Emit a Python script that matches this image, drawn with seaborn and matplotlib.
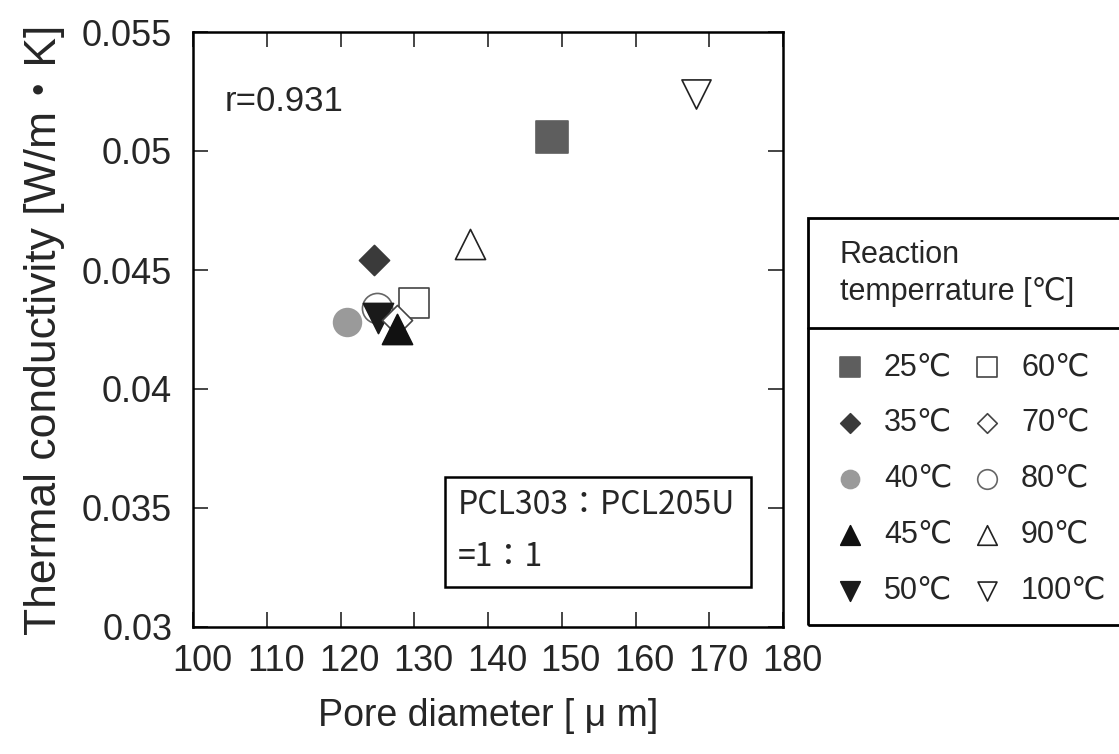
import numpy as np
import pandas as pd
import seaborn as sns
import matplotlib.pyplot as plt
from matplotlib.patches import Rectangle
from matplotlib.lines import Line2D
from matplotlib.transforms import ScaledTranslation

# values
temps = ['25℃', '35℃', '40℃', '45℃', '50℃', '60℃', '70℃', '80℃', '90℃', '100℃']
pore = [148.7, 124.5, 120.9, 127.6, 125.1, 129.9, 127.7, 124.9, 137.6, 168.2]
cond = [0.0506, 0.0454, 0.0428, 0.0425, 0.0430, 0.0436, 0.0429, 0.0434, 0.0461, 0.0524]

xticks = [100, 110, 120, 130, 140, 150, 160, 170, 180]
yticks = [0.03, 0.035, 0.04, 0.045, 0.05, 0.055]
ytick_labels = ['0.03', '0.035', '0.04', '0.045', '0.05', '0.055']

# marker styles per temperature
markers = ['s', 'D', 'o', '^', 'v', 's', 'D', 'o', '^', 'v']
faces = ['#5e5e5e', '#3a3a3a', '#9a9a9a', '#111111', '#1a1a1a',
         'white', 'white', 'white', 'white', 'white']
edges = ['#5e5e5e', '#3a3a3a', '#9a9a9a', '#111111', '#1a1a1a',
         '#444444', '#444444', '#666666', '#222222', '#222222']
sizes = [530, 235, 400, 470, 470, 470, 235, 470, 470, 440]
draw_order = [9, 8, 7, 5, 4, 6, 3, 2, 1, 0]

df = pd.DataFrame({'temp': temps, 'pore': pore, 'cond': cond})

sns.set_style('ticks')
plt.rcParams['font.family'] = ['Liberation Sans', 'DejaVu Sans', 'Noto Sans CJK JP']

fig = plt.figure(figsize=(11.19, 7.54), dpi=100)
ax = fig.add_axes([193 / 1119, 1 - 627 / 754, 590 / 1119, 595 / 754])

handles = {}
for z, i in enumerate(draw_order):
    sns.scatterplot(data=df.iloc[[i]], x='pore', y='cond', marker=markers[i],
                    s=sizes[i], color=faces[i], edgecolor=edges[i],
                    linewidth=1.2, ax=ax, zorder=3 + z, legend=False)
    handles[i] = ax.collections[-1]

ax.set_xlim(100, 180)
ax.set_ylim(0.03, 0.055)
ax.set_xticks(xticks)
ax.set_yticks(yticks)
ax.set_yticklabels(ytick_labels)
ax.tick_params(direction='in', length=11, width=1.2, top=True, right=True,
               labelsize=26, pad=15)
ax.tick_params(axis='x', pad=12)
for sp in ax.spines.values():
    sp.set_linewidth(1.8)
    sp.set_color('black')

# x tick labels sit a little right of their ticks in the original
shift = ScaledTranslation(9 / 100, 0, fig.dpi_scale_trans)
for lab in ax.get_xticklabels():
    lab.set_transform(lab.get_transform() + shift)

ax.set_xlabel('Pore diameter [ μ m]', fontsize=27, labelpad=14)
ax.set_ylabel('Thermal conductivity [W/m・K]', fontsize=32, labelpad=12)

ax.text(104.3, 0.0521, 'r=0.931', fontsize=25, ha='left', va='center')

# PCL303:PCL205U box
ax.add_patch(Rectangle((0.427, 0.067), 0.519, 0.185, transform=ax.transAxes,
                       fill=True, fc='white', ec='black', lw=1.8, zorder=2))
ax.text(0.449, 0.205, 'PCL303：PCL205U', transform=ax.transAxes, fontsize=23,
        ha='left', va='center', family=['Noto Sans CJK JP'])
ax.text(0.449, 0.117, '=1：1', transform=ax.transAxes, fontsize=23,
        ha='left', va='center', family=['Noto Sans CJK JP'])

# legend outside the axes
fig.add_artist(Rectangle((808 / 1119, 1 - 625 / 754), 0.3, 407 / 754,
                         transform=fig.transFigure, fill=False, ec='black', lw=2))
fig.add_artist(Line2D([808 / 1119, 1.0], [1 - 328 / 754, 1 - 328 / 754],
                      transform=fig.transFigure, color='black', lw=2))
fig.text(840 / 1119, 1 - 240 / 754, 'Reaction\ntemperrature [℃]', fontsize=22,
         ha='left', va='top', linespacing=1.3)

fig.legend([handles[i] for i in range(len(temps))], temps, ncol=2,
           loc='upper left', bbox_to_anchor=(835 / 1119, 1 - 352 / 754),
           frameon=False, fontsize=22, markerscale=0.65, handlelength=1.0,
           handletextpad=0.6, columnspacing=0.65, labelspacing=0.85,
           borderpad=0, borderaxespad=0)

fig.savefig('out.png', dpi=100)
